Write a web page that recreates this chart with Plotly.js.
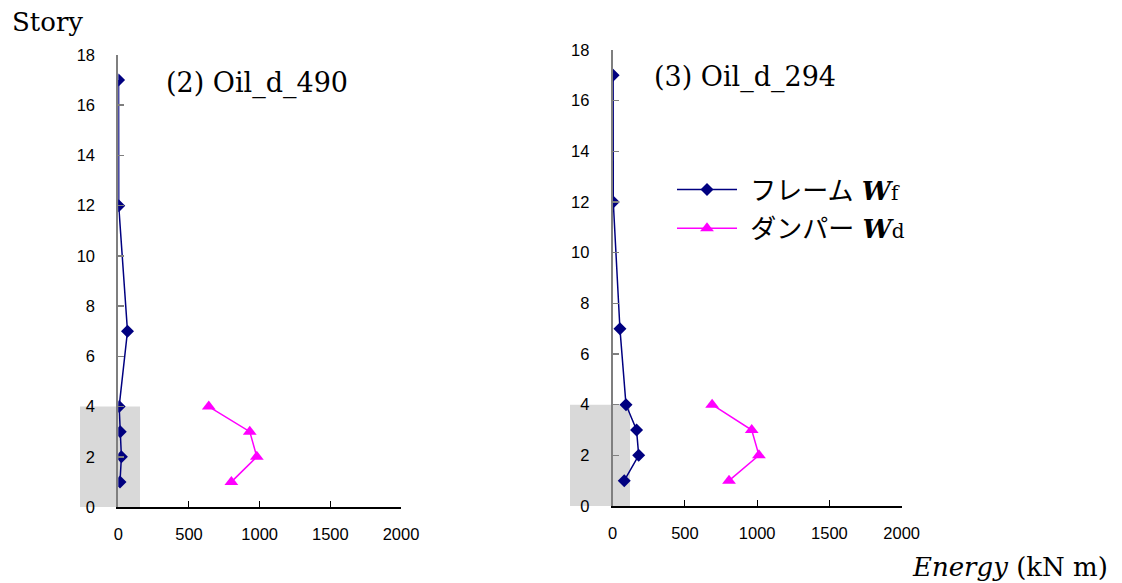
<!DOCTYPE html>
<html><head><meta charset="utf-8">
<script src="https://cdn.plot.ly/plotly-3.0.1.min.js"></script>
<style>body{margin:0;background:#fff}</style>
</head><body>
<div id="chart" style="width:1122px;height:583px"></div>
<script>
// Left panel: (2) Oil_d_490
const storiesFrame = [1, 2, 3, 4, 7, 12, 17];
const frame490 = [12, 22, 14, 6, 65, 3, 2];
const storiesDamper = [1, 2, 3, 4];
const damper490 = [800, 980, 930, 640];
// Right panel: (3) Oil_d_294
const frame294 = [80, 180, 165, 92, 50, 4, 3];
const damper294 = [805, 1012, 962, 688];
const xTicks = [0, 500, 1000, 1500, 2000];
const yTicks = [0, 2, 4, 6, 8, 10, 12, 14, 16, 18];
const panelTitles = ['(2) Oil_d_490', '(3) Oil_d_294'];
const seriesNames = ['\u00a0フレーム <b><i>W</i></b><span style="font-size:20px">f</span>', '\u00a0ダンパー <b><i>W</i></b><span style="font-size:20px">d</span>'];

const serif = 'DejaVu Serif, Noto Sans CJK JP, serif';
const sans = 'Liberation Sans, Arial, sans-serif';
const navy = '#000080', magenta = '#FF00FF';

function frameTrace(x, xa, ya, show) {
  return {x: x, y: storiesFrame, xaxis: xa, yaxis: ya, type: 'scatter', mode: 'lines+markers',
    name: seriesNames[0], showlegend: show, legendgroup: 'f', line: {color: navy, width: 1.5},
    marker: {symbol: 'diamond', size: 10, color: navy}};
}
function damperTrace(x, xa, ya, show) {
  return {x: x, y: storiesDamper, xaxis: xa, yaxis: ya, type: 'scatter', mode: 'lines+markers',
    name: seriesNames[1], showlegend: show, legendgroup: 'd', line: {color: magenta, width: 1.5},
    marker: {symbol: 'triangle-up', size: 12, color: magenta}};
}
const data = [
  frameTrace(frame490, 'x', 'y', false), damperTrace(damper490, 'x', 'y', false),
  frameTrace(frame294, 'x2', 'y2', true), damperTrace(damper294, 'x2', 'y2', true)
];

function xAxis(domain, anchor) {
  return {domain: domain, anchor: anchor, range: [0, 2000], tickvals: xTicks, ticktext: xTicks.map(String),
    showgrid: false, zeroline: false, showline: true, linecolor: '#000', linewidth: 1.5,
    ticks: 'inside', ticklen: 6, tickcolor: '#000', tickwidth: 1,
    tickfont: {family: sans, size: 16.5, color: '#000'}, ticklabelstandoff: 12, fixedrange: true};
}
function yAxis(domain, anchor) {
  return {domain: domain, anchor: anchor, range: [0, 18], tickvals: yTicks, ticktext: yTicks.map(String),
    showgrid: false, zeroline: false, showline: true, linecolor: '#7f7f7f', linewidth: 2,
    ticks: 'inside', ticklen: 6, tickcolor: '#7f7f7f', tickwidth: 1.5,
    tickfont: {family: sans, size: 16.5, color: '#000'}, ticklabelstandoff: 18, fixedrange: true};
}

const layout = {
  width: 1122, height: 583, margin: {l: 0, r: 0, t: 0, b: 0},
  paper_bgcolor: '#fff', plot_bgcolor: 'rgba(0,0,0,0)',
  xaxis: xAxis([118.3 / 1122, 401 / 1122], 'y'),
  yaxis: yAxis([76 / 583, 528 / 583], 'x'),
  xaxis2: xAxis([612.7 / 1122, 901.7 / 1122], 'y2'),
  yaxis2: yAxis([77 / 583, 533 / 583], 'x2'),
  showlegend: true,
  legend: {x: 672 / 1122, y: 1 - 166 / 583, xanchor: 'left', yanchor: 'top', bgcolor: 'rgba(0,0,0,0)',
    font: {family: serif, size: 26, color: '#000'}, itemwidth: 60, traceorder: 'grouped', tracegroupgap: 2},
  shapes: [
    {type: 'rect', xref: 'paper', yref: 'y', x0: 80 / 1122, x1: 140 / 1122, y0: -0.05, y1: 4,
      fillcolor: '#d9d9d9', line: {width: 0}, layer: 'below'},
    {type: 'rect', xref: 'paper', yref: 'y2', x0: 570 / 1122, x1: 630 / 1122, y0: -0.05, y1: 4,
      fillcolor: '#d9d9d9', line: {width: 0}, layer: 'below'}
  ],
  annotations: [
    {text: 'Story', xref: 'paper', yref: 'paper', x: 10 / 1122, y: 1 - 22 / 583, xanchor: 'left', yanchor: 'middle',
      showarrow: false, font: {family: serif, size: 26, color: '#000'}},
    {text: panelTitles[0], xref: 'paper', yref: 'paper', x: 164 / 1122, y: 1 - 83 / 583, xanchor: 'left', yanchor: 'middle',
      showarrow: false, font: {family: serif, size: 27, color: '#000'}},
    {text: panelTitles[1], xref: 'paper', yref: 'paper', x: 652 / 1122, y: 1 - 77 / 583, xanchor: 'left', yanchor: 'middle',
      showarrow: false, font: {family: serif, size: 27, color: '#000'}},
    {text: '<i>Energy</i> (kN m)', xref: 'paper', yref: 'paper', x: 1110 / 1122, y: 1 - 567 / 583, xanchor: 'right', yanchor: 'middle',
      showarrow: false, font: {family: serif, size: 26, color: '#000'}}
  ]
};
Plotly.newPlot('chart', data, layout, {displayModeBar: false, staticPlot: true});
</script>
</body></html>
